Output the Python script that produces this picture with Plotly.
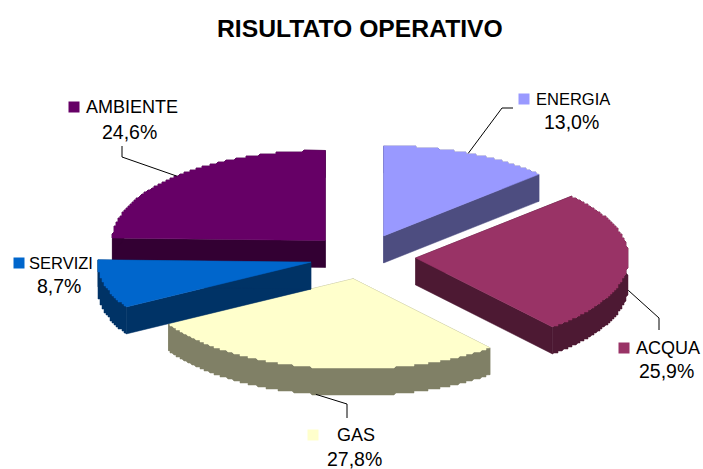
import math
import plotly.graph_objects as go

title = "RISULTATO OPERATIVO"
categories = ["ENERGIA", "ACQUA", "GAS", "SERVIZI", "AMBIENTE"]
values = [13.0, 25.9, 27.8, 8.7, 24.6]
top_colors = ["#9999FF", "#993366", "#FFFFCC", "#0066CC", "#660066"]
side_colors = ["#4D4D80", "#4D1933", "#808066", "#003366", "#330033"]

W, H = 703, 469
CX, CY, A, B, DEPTH, PULL = 362.5, 256.6, 213.0, 90.0, 27.0, 0.25
STEP = 2.0
FONT = "Liberation Sans, Arial, sans-serif"

total = sum(values)
slices = {}
running = 0.0
for name, v in zip(categories, values):
    a0 = running / total * 2 * math.pi
    running += v
    a1 = running / total * 2 * math.pi
    mid = (a0 + a1) / 2
    slices[name] = dict(
        a0=a0, a1=a1, mid=mid,
        ax=CX + PULL * A * math.sin(mid),
        ay=CY - PULL * B * math.cos(mid),
    )


def arc(s):
    """Stepped outline of the slice's rim, like the low-res rendering of the source."""
    n = 260
    xs, ys = [], []
    for i in range(n + 1):
        t = s["a0"] + (s["a1"] - s["a0"]) * i / n
        x = s["ax"] + A * math.sin(t)
        y = s["ay"] - B * math.cos(t)
        if 0 < i < n:
            x = round(x / STEP) * STEP
            y = round(y / STEP) * STEP
        xs.append(x)
        ys.append(y)
    return xs, ys


fig = go.Figure()


def poly(xs, ys, color):
    fig.add_trace(go.Scatter(
        x=xs, y=ys, mode="lines", fill="toself", fillcolor=color,
        line=dict(color=color, width=0.5), hoverinfo="skip", showlegend=False,
    ))


for name in ["AMBIENTE", "ENERGIA", "ACQUA", "GAS", "SERVIZI"]:
    i = categories.index(name)
    s = slices[name]
    xs, ys = arc(s)
    ax, ay = s["ax"], s["ay"]
    side = side_colors[i]
    # radial walls
    poly([ax, xs[0], xs[0], ax, ax], [ay, ys[0], ys[0] + DEPTH, ay + DEPTH, ay], side)
    poly([ax, xs[-1], xs[-1], ax, ax], [ay, ys[-1], ys[-1] + DEPTH, ay + DEPTH, ay], side)
    # curved wall
    poly(xs + xs[::-1] + [xs[0]], ys + [y + DEPTH for y in ys[::-1]] + [ys[0]], side)
    # top face
    poly([ax] + xs + [ax], [ay] + ys + [ay], top_colors[i])


# Leader lines start on the rim at each slice's mid-angle
def rim(name, down=0.0):
    s = slices[name]
    return (s["ax"] + A * math.sin(s["mid"]),
            s["ay"] - B * math.cos(s["mid"]) + down)


leader_ends = {
    "ENERGIA": ([502, 513], [108, 108], 0.0),
    "ACQUA": ([659, 659], [318, 330], DEPTH),
    "GAS": ([347, 347], [404, 418], DEPTH),
    "AMBIENTE": ([122, 122], [157, 146], 0.0),
}
for name, (lx, ly, down) in leader_ends.items():
    x0, y0 = rim(name, down)
    fig.add_trace(go.Scatter(
        x=[x0] + lx, y=[y0] + ly, mode="lines",
        line=dict(color="#000000", width=1), hoverinfo="skip", showlegend=False,
    ))

# label layout: key x, key y, name centre x, percent centre x, percent y, name font size
label_pos = {
    "ENERGIA": (524, 99, 573, 571, 122, 16.5),
    "ACQUA": (624, 348, 668, 666, 371, 18),
    "GAS": (313, 435, 356, 354, 459, 18),
    "SERVIZI": (19, 263, 61, 59, 286, 16.5),
    "AMBIENTE": (74, 107, 132, 129, 132, 18),
}
annotations = []
for i, name in enumerate(categories):
    kx, ky, nx, px, py, fs = label_pos[name]
    fig.add_trace(go.Scatter(
        x=[kx], y=[ky], mode="markers",
        marker=dict(symbol="square", size=11, color=top_colors[i]),
        hoverinfo="skip", showlegend=False,
    ))
    annotations.append(dict(x=nx, y=ky, text=name, showarrow=False,
                            font=dict(family=FONT, size=fs, color="#000000")))
    pct = f"{values[i]:.1f}".replace(".", ",") + "%"
    annotations.append(dict(x=px, y=py, text=pct, showarrow=False,
                            font=dict(family=FONT, size=19.5, color="#000000")))

annotations.append(dict(x=360, y=28, text=f"<b>{title}</b>", showarrow=False,
                        font=dict(family=FONT, size=24.7, color="#000000")))

fig.update_layout(
    width=W, height=H,
    margin=dict(l=0, r=0, t=0, b=0),
    paper_bgcolor="#FFFFFF", plot_bgcolor="#FFFFFF",
    xaxis=dict(range=[0, W], visible=False, fixedrange=True),
    yaxis=dict(range=[H, 0], visible=False, fixedrange=True),
    annotations=annotations,
    showlegend=False,
)
fig.write_html("out.html", config={"displayModeBar": False},
               post_script="document.body.style.margin='0';document.body.style.overflow='hidden';")
